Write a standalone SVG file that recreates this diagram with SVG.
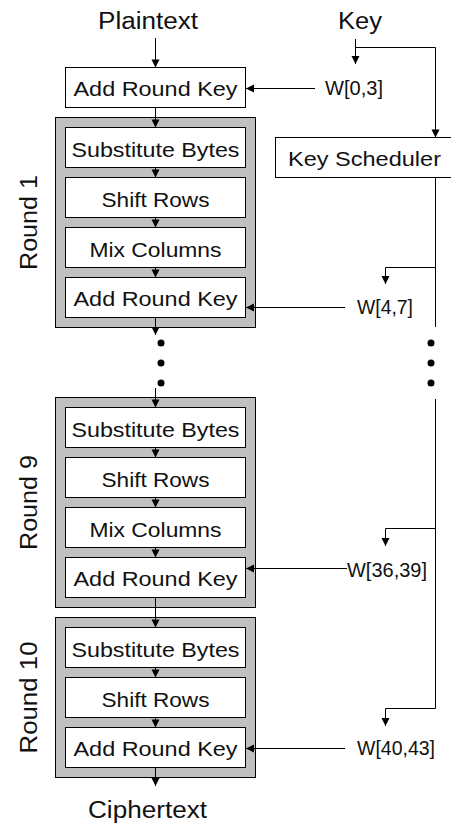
<svg xmlns="http://www.w3.org/2000/svg" width="451" height="830" viewBox="0 0 451 830">
  <style>
    text { font-family: "Liberation Sans", Arial, sans-serif; fill: #111; }
    .io { font-size: 23px; }
    .lbl { font-size: 21px; text-anchor: middle; }
    .w { font-size: 20px; }
    .rnd { font-size: 23px; text-anchor: middle; }
    .box { fill: #fff; stroke: #000; stroke-width: 1; }
    .round { fill: #c0c0c0; stroke: #000; stroke-width: 1; }
    .ln { fill: none; stroke: #000; stroke-width: 1; }
    .dot { fill: #000; }
  </style>
  <defs>
    <!-- filled arrowhead; tip sits on the end point of the line -->
    <marker id="ah" markerUnits="userSpaceOnUse" markerWidth="10" markerHeight="10" viewBox="-9 -5 10 10" refX="0" refY="0" orient="auto">
      <path d="M0,0 L-8,-4 L-8,4 Z" fill="#000"/>
    </marker>
  </defs>

  <!-- round backgrounds -->
  <g id="round1">
    <rect class="round" x="55.5" y="117.5" width="200" height="210"/>
    <text class="rnd" transform="translate(37,222.5) rotate(-90)" textLength="95" lengthAdjust="spacingAndGlyphs">Round 1</text>
  </g>
  <g id="round9">
    <rect class="round" x="55.5" y="397.5" width="200" height="210"/>
    <text class="rnd" transform="translate(37,502.5) rotate(-90)" textLength="95" lengthAdjust="spacingAndGlyphs">Round 9</text>
  </g>
  <g id="round10">
    <rect class="round" x="55.5" y="617.5" width="200" height="160"/>
    <text class="rnd" transform="translate(37,697.5) rotate(-90)" textLength="112" lengthAdjust="spacingAndGlyphs">Round 10</text>
  </g>

  <!-- connectors -->
  <g id="connectors">
    <!-- main data path -->
    <line class="ln" x1="155.5" y1="38" x2="155.5" y2="67.5" marker-end="url(#ah)"/>
    <line class="ln" x1="155.5" y1="107.5" x2="155.5" y2="127.5" marker-end="url(#ah)"/>
    <line class="ln" x1="155.5" y1="167.5" x2="155.5" y2="177.5" marker-end="url(#ah)"/>
    <line class="ln" x1="155.5" y1="217.5" x2="155.5" y2="227.5" marker-end="url(#ah)"/>
    <line class="ln" x1="155.5" y1="267.5" x2="155.5" y2="277.5" marker-end="url(#ah)"/>
    <line class="ln" x1="155.5" y1="317.5" x2="155.5" y2="335" marker-end="url(#ah)"/>
    <line class="ln" x1="155.5" y1="388" x2="155.5" y2="407.5" marker-end="url(#ah)"/>
    <line class="ln" x1="155.5" y1="447.5" x2="155.5" y2="457.5" marker-end="url(#ah)"/>
    <line class="ln" x1="155.5" y1="497.5" x2="155.5" y2="507.5" marker-end="url(#ah)"/>
    <line class="ln" x1="155.5" y1="547.5" x2="155.5" y2="557.5" marker-end="url(#ah)"/>
    <line class="ln" x1="155.5" y1="597.5" x2="155.5" y2="627.5" marker-end="url(#ah)"/>
    <line class="ln" x1="155.5" y1="667.5" x2="155.5" y2="677.5" marker-end="url(#ah)"/>
    <line class="ln" x1="155.5" y1="717.5" x2="155.5" y2="727.5" marker-end="url(#ah)"/>
    <line class="ln" x1="155.5" y1="767.5" x2="155.5" y2="786" marker-end="url(#ah)"/>

    <!-- key path -->
    <line class="ln" x1="355.5" y1="39" x2="355.5" y2="64" marker-end="url(#ah)"/>
    <polyline class="ln" points="355.5,47.5 435.5,47.5 435.5,137.5" marker-end="url(#ah)"/>
    <line class="ln" x1="435.5" y1="177.5" x2="435.5" y2="327"/>
    <polyline class="ln" points="435.5,267.5 385.5,267.5 385.5,284" marker-end="url(#ah)"/>
    <line class="ln" x1="435.5" y1="399" x2="435.5" y2="708.5"/>
    <polyline class="ln" points="435.5,528.5 385.5,528.5 385.5,546" marker-end="url(#ah)"/>
    <polyline class="ln" points="435.5,708.5 385.5,708.5 385.5,726" marker-end="url(#ah)"/>

    <!-- round keys into Add Round Key -->
    <line class="ln" x1="315" y1="88.5" x2="246" y2="88.5" marker-end="url(#ah)"/>
    <line class="ln" x1="345" y1="307.5" x2="246" y2="307.5" marker-end="url(#ah)"/>
    <line class="ln" x1="347" y1="568.5" x2="246" y2="568.5" marker-end="url(#ah)"/>
    <line class="ln" x1="345" y1="748.5" x2="246" y2="748.5" marker-end="url(#ah)"/>

    <!-- elided rounds -->
    <circle class="dot" cx="161" cy="343" r="3.5"/>
    <circle class="dot" cx="161" cy="363" r="3.5"/>
    <circle class="dot" cx="161" cy="383" r="3.5"/>
    <circle class="dot" cx="431" cy="343" r="3.5"/>
    <circle class="dot" cx="431" cy="363" r="3.5"/>
    <circle class="dot" cx="431" cy="383" r="3.5"/>
  </g>

  <!-- inputs / outputs -->
  <g id="plaintext"><text class="io" x="98" y="29" textLength="100" lengthAdjust="spacingAndGlyphs">Plaintext</text></g>
  <g id="key"><text class="io" x="338" y="29" textLength="44" lengthAdjust="spacingAndGlyphs">Key</text></g>
  <g id="ciphertext"><text class="io" x="88" y="818" textLength="119" lengthAdjust="spacingAndGlyphs">Ciphertext</text></g>

  <!-- round key labels -->
  <g id="w0"><text class="w" x="325" y="95" textLength="58" lengthAdjust="spacingAndGlyphs">W[0,3]</text></g>
  <g id="w4"><text class="w" x="357" y="314" textLength="56" lengthAdjust="spacingAndGlyphs">W[4,7]</text></g>
  <g id="w36"><text class="w" x="347" y="576.5" textLength="80" lengthAdjust="spacingAndGlyphs">W[36,39]</text></g>
  <g id="w40"><text class="w" x="357" y="755" textLength="78" lengthAdjust="spacingAndGlyphs">W[40,43]</text></g>

  <!-- key scheduler -->
  <g id="key-scheduler">
    <rect class="box" x="275.5" y="137.5" width="180" height="40"/>
    <text class="lbl" style="text-anchor:start" x="288" y="166" textLength="153" lengthAdjust="spacingAndGlyphs">Key Scheduler</text>
  </g>

  <!-- initial round -->
  <g id="ark0">
    <rect class="box" x="65.5" y="67.5" width="180" height="40"/>
    <text class="lbl" x="155.5" y="95.5" textLength="164" lengthAdjust="spacingAndGlyphs">Add Round Key</text>
  </g>

  <!-- round 1 steps -->
  <g id="sb1">
    <rect class="box" x="65.5" y="127.5" width="180" height="40"/>
    <text class="lbl" x="155.5" y="156.5" textLength="168" lengthAdjust="spacingAndGlyphs">Substitute Bytes</text>
  </g>
  <g id="sr1">
    <rect class="box" x="65.5" y="177.5" width="180" height="40"/>
    <text class="lbl" x="155.5" y="206.5" textLength="108" lengthAdjust="spacingAndGlyphs">Shift Rows</text>
  </g>
  <g id="mc1">
    <rect class="box" x="65.5" y="227.5" width="180" height="40"/>
    <text class="lbl" x="155.5" y="256.5" textLength="132" lengthAdjust="spacingAndGlyphs">Mix Columns</text>
  </g>
  <g id="ark1">
    <rect class="box" x="65.5" y="277.5" width="180" height="40"/>
    <text class="lbl" x="155.5" y="306" textLength="164" lengthAdjust="spacingAndGlyphs">Add Round Key</text>
  </g>

  <!-- round 9 steps -->
  <g id="sb9">
    <rect class="box" x="65.5" y="407.5" width="180" height="40"/>
    <text class="lbl" x="155.5" y="436.5" textLength="168" lengthAdjust="spacingAndGlyphs">Substitute Bytes</text>
  </g>
  <g id="sr9">
    <rect class="box" x="65.5" y="457.5" width="180" height="40"/>
    <text class="lbl" x="155.5" y="486.5" textLength="108" lengthAdjust="spacingAndGlyphs">Shift Rows</text>
  </g>
  <g id="mc9">
    <rect class="box" x="65.5" y="507.5" width="180" height="40"/>
    <text class="lbl" x="155.5" y="536.5" textLength="132" lengthAdjust="spacingAndGlyphs">Mix Columns</text>
  </g>
  <g id="ark9">
    <rect class="box" x="65.5" y="557.5" width="180" height="40"/>
    <text class="lbl" x="155.5" y="586" textLength="164" lengthAdjust="spacingAndGlyphs">Add Round Key</text>
  </g>

  <!-- round 10 steps -->
  <g id="sb10">
    <rect class="box" x="65.5" y="627.5" width="180" height="40"/>
    <text class="lbl" x="155.5" y="656.5" textLength="168" lengthAdjust="spacingAndGlyphs">Substitute Bytes</text>
  </g>
  <g id="sr10">
    <rect class="box" x="65.5" y="677.5" width="180" height="40"/>
    <text class="lbl" x="155.5" y="706.5" textLength="108" lengthAdjust="spacingAndGlyphs">Shift Rows</text>
  </g>
  <g id="ark10">
    <rect class="box" x="65.5" y="727.5" width="180" height="40"/>
    <text class="lbl" x="155.5" y="756" textLength="164" lengthAdjust="spacingAndGlyphs">Add Round Key</text>
  </g>
</svg>
